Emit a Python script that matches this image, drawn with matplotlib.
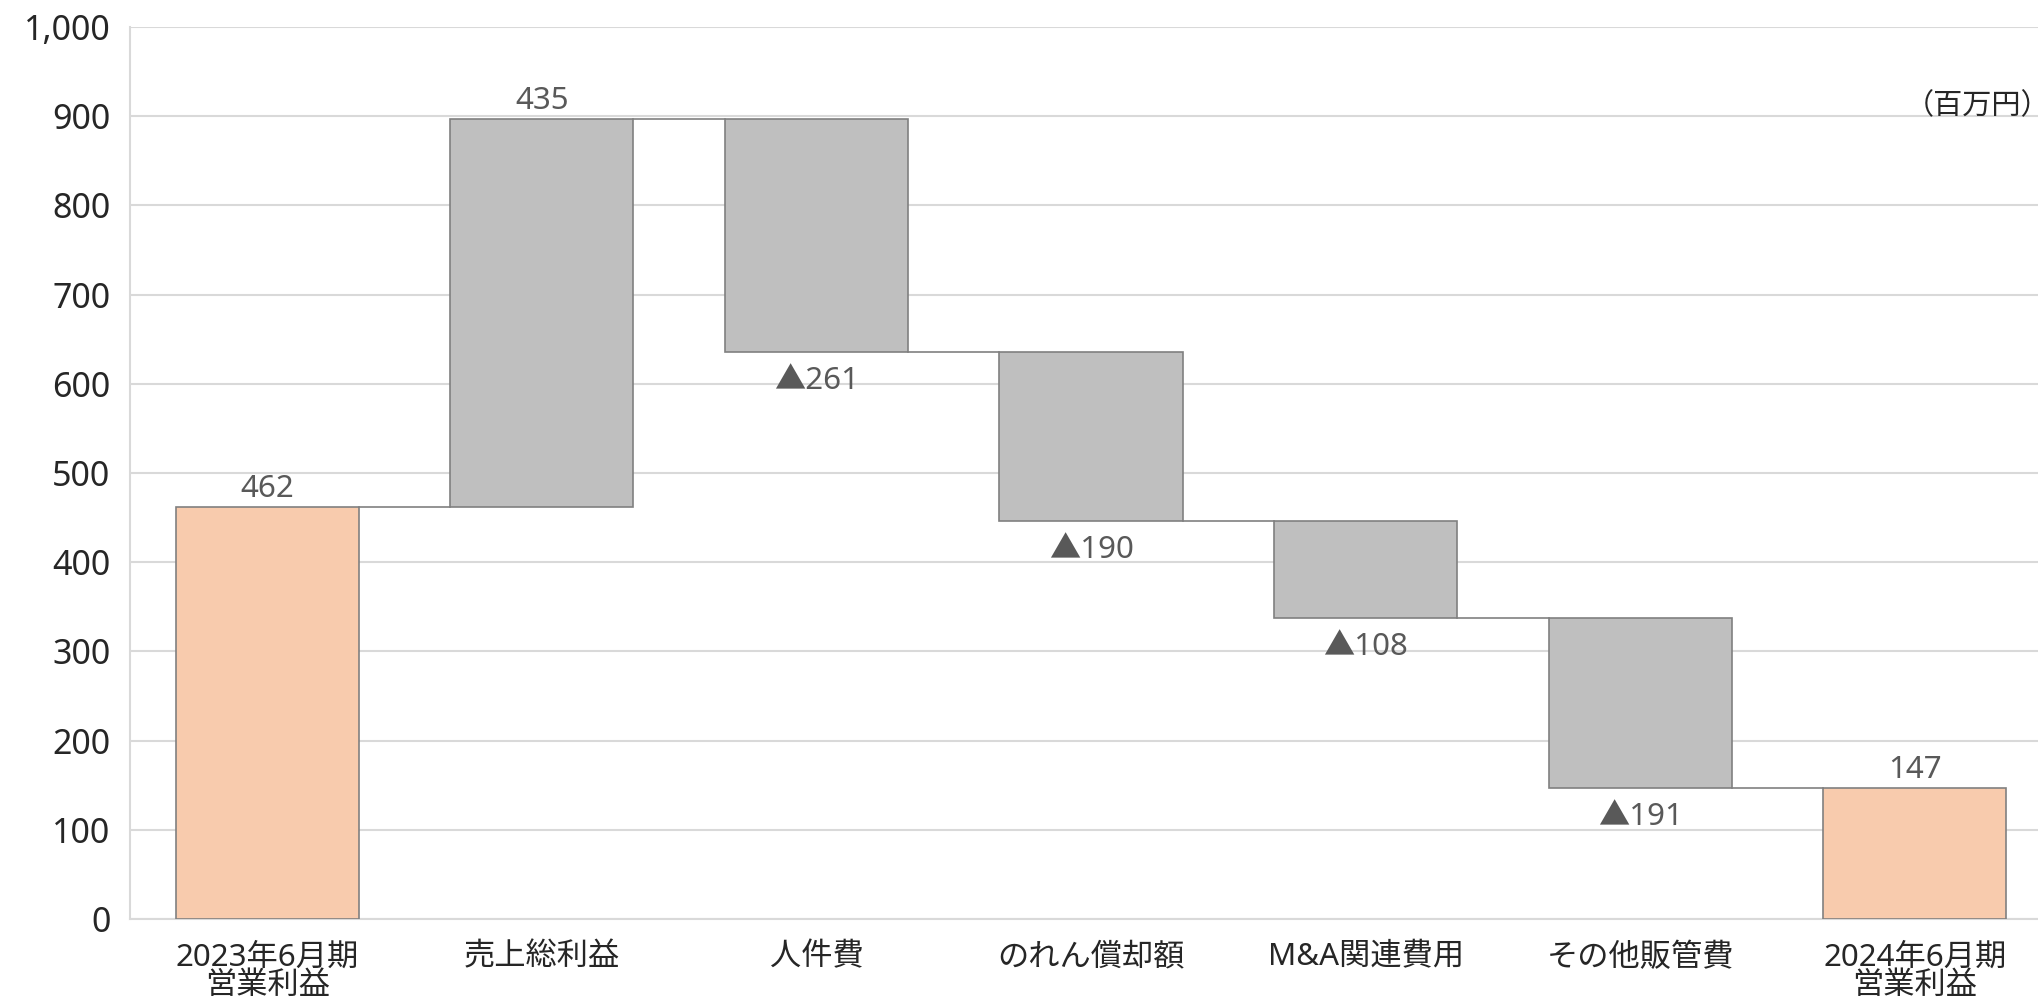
import matplotlib
matplotlib.use("Agg")
import matplotlib.pyplot as plt
import numpy as np

plt.rcParams['font.family'] = ['Noto Sans', 'Noto Sans CJK JP', 'DejaVu Sans']

# data (百万円)
categories = ['2023年6月期\n営業利益', '売上総利益', '人件費', 'のれん償却額',
              'M&A関連費用', 'その他販管費', '2024年6月期\n営業利益']
start_value = 462
changes = [435, -261, -190, -108, -191]
end_value = 147
yticks = [0, 100, 200, 300, 400, 500, 600, 700, 800, 900, 1000]

ORANGE = '#f8cbad'
GREY = '#bfbfbf'
EDGE = '#808080'
LABEL = '#595959'

# build bottoms / heights
bottoms = [0]
heights = [start_value]
colors = [ORANGE]
levels = [start_value]
running = start_value
for c in changes:
    new = running + c
    bottoms.append(min(running, new))
    heights.append(abs(c))
    colors.append(GREY)
    running = new
    levels.append(running)
bottoms.append(0)
heights.append(end_value)
colors.append(ORANGE)

x = np.arange(len(categories))
width = 0.667

fig = plt.figure(figsize=(20.38, 10.01), dpi=100)
ax = fig.add_axes([130 / 2038, 1 - 919 / 1001, (2052 - 130) / 2038, (919 - 27) / 1001])

ax.bar(x, heights, bottom=bottoms, width=width, color=colors,
       edgecolor=EDGE, linewidth=1.2, zorder=3)

# connector lines
for i, lv in enumerate(levels):
    ax.plot([x[i] + width / 2, x[i + 1] - width / 2], [lv, lv],
            color=EDGE, linewidth=1.2, zorder=3)

# value labels
lbl = dict(fontsize=22.5, color=LABEL, ha='center')
ax.text(x[0], start_value + 3, str(start_value), va='bottom', **lbl)
for i, c in enumerate(changes, start=1):
    if c > 0:
        ax.text(x[i], bottoms[i] + heights[i] + 3, str(c), va='bottom', **lbl)
    else:
        ax.text(x[i], bottoms[i] - 16, '▲' + str(-c), va='top', **lbl)
ax.text(x[-1], end_value + 3, str(end_value), va='bottom', **lbl)

ax.set_xlim(-0.5, len(categories) - 0.5)
ax.set_ylim(0, 1000)
ax.set_yticks(yticks)
ax.set_yticklabels([f'{v:,}' for v in yticks], fontsize=24.5, color='#262626')
ax.set_xticks(x)
ax.set_xticklabels(categories, fontsize=22.5, color='#262626', linespacing=0.95)
ax.tick_params(axis='both', length=0)
ax.tick_params(axis='y', pad=14)
ax.tick_params(axis='x', pad=17)

ax.grid(axis='y', color='#d9d9d9', linewidth=1.5, zorder=0)
ax.set_axisbelow(True)
for s in ['top', 'right']:
    ax.spines[s].set_visible(False)
ax.spines['left'].set_color('#d9d9d9')
ax.spines['left'].set_linewidth(1.5)
ax.spines['bottom'].set_color('#d9d9d9')
ax.spines['bottom'].set_linewidth(1.5)

fig.text(1905 / 2038, 1 - 107 / 1001, '（百万円）', ha='left', va='center',
         fontsize=21, color='#262626')

fig.savefig('out.png', dpi=100)
